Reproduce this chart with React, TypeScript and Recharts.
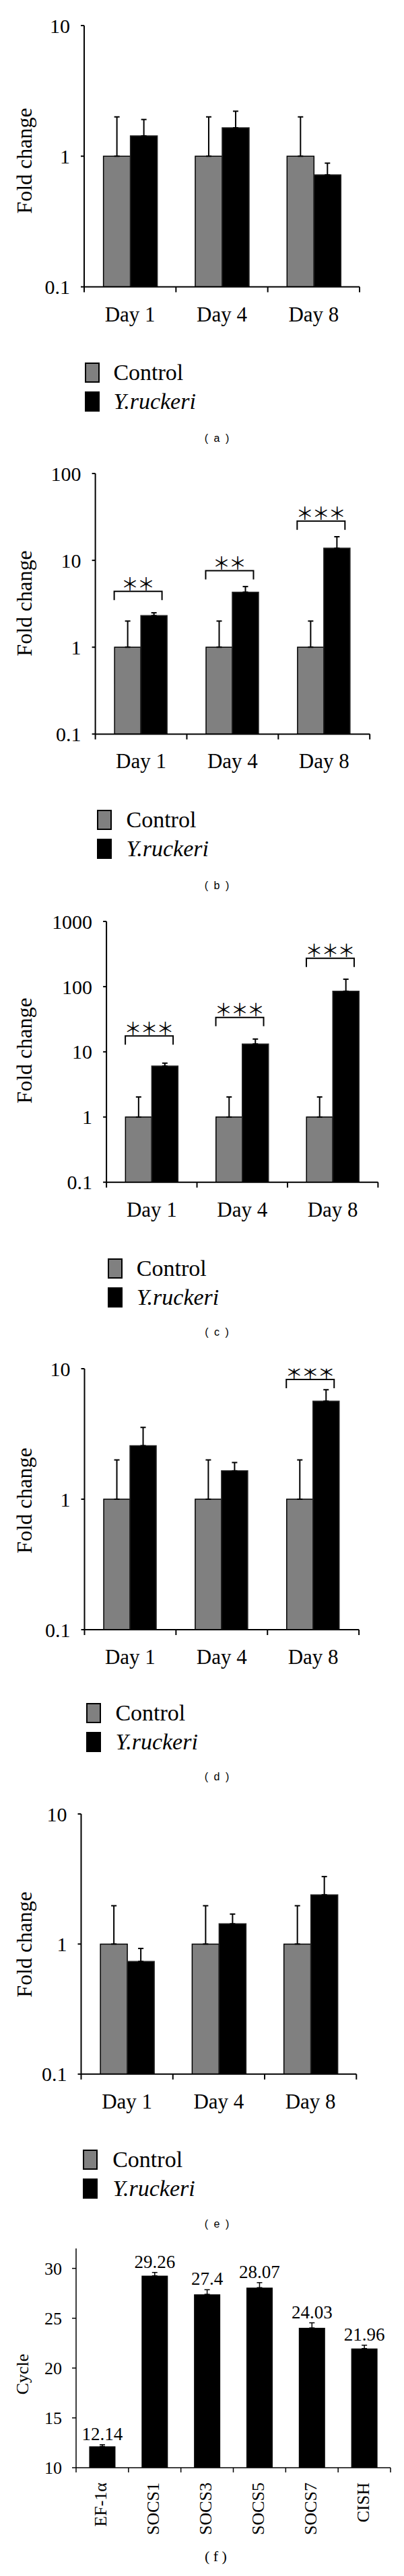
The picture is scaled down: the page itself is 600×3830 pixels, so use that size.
import React from 'react';
import { BarChart, Bar, XAxis, YAxis, ErrorBar, LabelList } from 'recharts';

const SERIF = '"Liberation Serif", "Times New Roman", serif';
const SANS = '"Liberation Sans", Arial, sans-serif';
const GREY = '#808080';

// ---------- shared ----------
const days = ['Day 1', 'Day 4', 'Day 8'];
const seriesNames = ['Control', 'Y.ruckeri'];
const foldTitle = 'Fold change';
const panelNames = ['( a )', '( b )', '( c )', '( d )', '( e )', '( f )'];

// ---------- (a) ----------
const aControl = [1, 1, 1];
const aControlErr = [1, 1, 1];
const aRuckeri = [1.43, 1.65, 0.72];
const aRuckeriErr = [0.48, 0.56, 0.165];
const aTicks = [0.1, 1, 10];

// ---------- (b) ----------
const bControl = [1, 1, 1];
const bControlErr = [1, 1, 1];
const bRuckeri = [2.31, 4.3, 13.8];
const bRuckeriErr = [0.18, 0.69, 4.9];
const bBracket = [4.4, 7.6, 28.3];
const bStars = ['**', '**', '***'];
const bTicks = [0.1, 1, 10, 100];

// ---------- (c) ----------
const cControl = [1, 1, 1];
const cControlErr = [1.03, 1.03, 1.03];
const cRuckeri = [6.06, 13.2, 85];
const cRuckeriErr = [0.64, 2.5, 45];
const cBracket = [17.5, 33.6, 272];
const cStars = ['***', '***', '***'];
const cTicks = [0.1, 1, 10, 100, 1000];

// ---------- (d) ----------
const dControl = [1, 1, 1];
const dControlErr = [1, 1, 1];
const dRuckeri = [2.57, 1.65, 5.64];
const dRuckeriErr = [0.98, 0.26, 1.26];
const dBracket = [null, null, 8.26];
const dStars = ['', '', '***'];
const dTicks = [0.1, 1, 10];

// ---------- (e) ----------
const eControl = [1, 1, 1];
const eControlErr = [0.97, 0.97, 0.97];
const eRuckeri = [0.735, 1.43, 2.39];
const eRuckeriErr = [0.19, 0.27, 0.91];
const eTicks = [0.1, 1, 10];

// ---------- (f) ----------
const genes = ['EF-1α', 'SOCS1', 'SOCS3', 'SOCS5', 'SOCS7', 'CISH'];
const cycles = [12.14, 29.26, 27.4, 28.07, 24.03, 21.96];
const cycleErr = [0.17, 0.33, 0.46, 0.5, 0.51, 0.33];
const cycleTicks = [10, 15, 20, 25, 30];
const cycleMax = 32;
const cycleTitle = 'Cycle';

function buildRows(control: number[], controlErr: number[], ruckeri: number[], ruckeriErr: number[], bracket?: (number | null)[], stars?: string[]) {
  return days.map((d, i) => ({
    day: d,
    control: control[i],
    controlErr: [0, controlErr[i]],
    ruckeri: ruckeri[i],
    ruckeriErr: [0, ruckeriErr[i]],
    sig: bracket ? bracket[i] : null,
    stars: stars ? stars[i] : '',
  }));
}

const DayTick = (props: any) => {
  const { x, y, payload, index } = props;
  const half = payload && typeof payload.offset === 'number' ? payload.offset : 0;
  const last = index === days.length - 1;
  return (
    <g>
      <line x1={x - half} x2={x - half} y1={y - 8} y2={y} stroke="#000" strokeWidth={2} />
      {last && <line x1={x + half} x2={x + half} y1={y - 8} y2={y} stroke="#000" strokeWidth={2} />}
      <text x={x} y={y + 43} textAnchor="middle" fontSize={31} fontFamily={SERIF} fill="#000">
        {payload.value}
      </text>
    </g>
  );
};

const SigShape = (props: any) => {
  const { x, y, width, payload } = props;
  if (!payload || payload.sig == null || !isFinite(y)) return null;
  const drop = 13;
  const shift = -4;
  const x0 = x + shift;
  const starText = String(payload.stars).replace(/\*/g, '\uFF0A');
  return (
    <g>
      <path
        d={`M${x0},${y + drop}L${x0},${y}L${x0 + width},${y}L${x0 + width},${y + drop}`}
        fill="none"
        stroke="#000"
        strokeWidth={2}
      />
      <text
        x={x0 + width / 2 - 1}
        y={y - 1.5}
        textAnchor="middle"
        fontSize={26}
        letterSpacing={-2}
        fontFamily='"Noto Sans CJK JP", "DejaVu Sans", sans-serif'
        fill="#000"
      >
        {starText}
      </text>
    </g>
  );
};

function FoldPanel(props: any) {
  const { rows, ticks, left, right, top, bottom, withSig } = props;
  const mt = 40;
  const mb = 30;
  const xh = 30;
  const yw = 100;
  return (
    <div style={{ position: 'absolute', left: 0, top: top - mt }}>
      <BarChart
        width={600}
        height={bottom - top + mt + mb + xh}
        data={rows}
        margin={{ top: mt, right: 600 - right, bottom: mb, left: left - yw }}
        barCategoryGap="21%"
        barGap={0}
      >
        <XAxis
          xAxisId="main"
          dataKey="day"
          height={xh}
          tickSize={8}
          tickMargin={0}
          tickLine={false}
          axisLine={{ stroke: '#000', strokeWidth: 2 }}
          tick={<DayTick />}
          interval={0}
        />
        {withSig && <XAxis xAxisId="sig" dataKey="day" hide />}
        <YAxis
          type="number"
          scale="log"
          domain={[ticks[0], ticks[ticks.length - 1]]}
          ticks={ticks}
          allowDataOverflow
          interval={0}
          width={yw}
          tickSize={5}
          tickMargin={16}
          axisLine={{ stroke: '#000', strokeWidth: 2 }}
          tickLine={{ stroke: '#000', strokeWidth: 2 }}
          tick={{ fontSize: 30, fill: '#000', fontFamily: SERIF }}
        />
        <Bar xAxisId="main" dataKey="control" name={seriesNames[0]} fill={GREY} stroke="#000" strokeWidth={1.5} isAnimationActive={false}>
          <ErrorBar dataKey="controlErr" width={4} stroke="#000" strokeWidth={2} direction="y" />
        </Bar>
        <Bar xAxisId="main" dataKey="ruckeri" name={seriesNames[1]} fill="#000" stroke="#222" strokeWidth={1.5} isAnimationActive={false}>
          <ErrorBar dataKey="ruckeriErr" width={4} stroke="#000" strokeWidth={2} direction="y" />
        </Bar>
        {withSig && (
          <Bar xAxisId="sig" dataKey="sig" barSize={71} shape={<SigShape />} isAnimationActive={false} />
        )}
      </BarChart>
    </div>
  );
}

const GeneTick = (props: any) => {
  const { x, y, payload, index } = props;
  const half = payload && typeof payload.offset === 'number' ? payload.offset : 0;
  const last = index === genes.length - 1;
  const ty = y + 15;
  return (
    <g>
      <line x1={x - half} x2={x - half} y1={y - 7} y2={y} stroke="#000" strokeWidth={1.5} />
      {last && <line x1={x + half} x2={x + half} y1={y - 7} y2={y} stroke="#000" strokeWidth={1.5} />}
      <text
        x={x}
        y={ty}
        dy="0.25em"
        textAnchor="end"
        transform={`rotate(-90, ${x}, ${ty})`}
        fontSize={26}
        fontFamily={SERIF}
        fill="#000"
      >
        {payload.value}
      </text>
    </g>
  );
};

const ValueLabel = (props: any) => {
  const vb = props.viewBox && typeof props.viewBox.x === 'number' ? props.viewBox : props;
  const { x, y, width, height } = vb;
  const { value, index } = props;
  const v = Number(value);
  const e = typeof index === 'number' ? cycleErr[index] : 0;
  const errPx = height > 0 && v > cycleTicks[0] ? (e * height) / (v - cycleTicks[0]) : 0;
  return (
    <text x={x + width / 2} y={y - errPx - 7} textAnchor="middle" fontSize={27} fontFamily={SERIF} fill="#000">
      {String(value)}
    </text>
  );
};

function CyclePanel() {
  const left = 113;
  const right = 580;
  const top = 3343;
  const bottom = 3669;
  const mt = 40;
  const xh = 110;
  const mb = 10;
  const yw = 100;
  const rows = genes.map((g, i) => ({ gene: g, cycle: cycles[i], err: [0, cycleErr[i]] }));
  return (
    <div style={{ position: 'absolute', left: 0, top: top - mt }}>
      <BarChart
        width={600}
        height={bottom - top + mt + xh + mb}
        data={rows}
        margin={{ top: mt, right: 600 - right, bottom: mb, left: left - yw }}
        barCategoryGap="25%"
      >
        <XAxis
          dataKey="gene"
          height={xh}
          tickSize={7}
          tickMargin={0}
          tickLine={false}
          axisLine={{ stroke: '#000', strokeWidth: 1.5 }}
          tick={<GeneTick />}
          interval={0}
        />
        <YAxis
          type="number"
          domain={[cycleTicks[0], cycleMax]}
          ticks={cycleTicks}
          allowDataOverflow
          interval={0}
          width={yw}
          tickSize={6}
          tickMargin={15}
          axisLine={{ stroke: '#000', strokeWidth: 1.5 }}
          tickLine={{ stroke: '#000', strokeWidth: 1.5 }}
          tick={{ fontSize: 26, fill: '#000', fontFamily: SERIF }}
        />
        <Bar dataKey="cycle" fill="#000" isAnimationActive={false}>
          <ErrorBar dataKey="err" width={4} stroke="#000" strokeWidth={1.5} direction="y" />
          <LabelList dataKey="cycle" content={<ValueLabel />} />
        </Bar>
      </BarChart>
    </div>
  );
}

function LegendBlock(props: any) {
  const { sx, sy, tx } = props;
  const sq = { position: 'absolute' as const, width: 22, height: 30, boxSizing: 'border-box' as const };
  const txt = {
    position: 'absolute' as const,
    left: tx,
    height: 30,
    lineHeight: '30px',
    fontSize: 34,
    fontFamily: SERIF,
    whiteSpace: 'nowrap' as const,
    color: '#000',
  };
  return (
    <>
      <div style={{ ...sq, left: sx, top: sy, background: GREY, border: '2px solid #000' }} />
      <div style={{ ...txt, top: sy }}>{seriesNames[0]}</div>
      <div style={{ ...sq, left: sx, top: sy + 43, background: '#000' }} />
      <div style={{ ...txt, top: sy + 43, fontStyle: 'italic' }}>{seriesNames[1]}</div>
    </>
  );
}

function YTitle(props: any) {
  const { cx, cy, text, size } = props;
  return (
    <div
      style={{
        position: 'absolute',
        left: cx,
        top: cy,
        transform: 'translate(-50%, -50%) rotate(-90deg)',
        fontSize: size,
        fontFamily: SERIF,
        lineHeight: 1,
        whiteSpace: 'nowrap',
        color: '#000',
      }}
    >
      {text}
    </div>
  );
}

function PanelLabel(props: any) {
  const { cx, cy, text, serif } = props;
  return (
    <div
      style={{
        position: 'absolute',
        left: cx,
        top: cy,
        transform: 'translate(-50%, -50%)',
        fontSize: serif ? 22 : 16,
        fontFamily: serif ? SERIF : SANS,
        letterSpacing: serif ? 0 : 2,
        lineHeight: 1,
        whiteSpace: 'pre',
        color: '#000',
      }}
    >
      {text}
    </div>
  );
}

export default function App() {
  const rowsA = buildRows(aControl, aControlErr, aRuckeri, aRuckeriErr);
  const rowsB = buildRows(bControl, bControlErr, bRuckeri, bRuckeriErr, bBracket, bStars);
  const rowsC = buildRows(cControl, cControlErr, cRuckeri, cRuckeriErr, cBracket, cStars);
  const rowsD = buildRows(dControl, dControlErr, dRuckeri, dRuckeriErr, dBracket, dStars);
  const rowsE = buildRows(eControl, eControlErr, eRuckeri, eRuckeriErr);
  return (
    <div
      style={{
        position: 'absolute',
        left: 0,
        top: 0,
        width: 600,
        height: 3830,
        background: '#fff',
        overflow: 'hidden',
      }}
    >
      <FoldPanel rows={rowsA} ticks={aTicks} left={125} right={534} top={37.5} bottom={426} />
      <YTitle cx={36.4} cy={238.8} text={foldTitle} size={32} />
      <LegendBlock sx={126.3} sy={539} tx={168.4} />
      <PanelLabel cx={323} cy={651.6} text={panelNames[0]} />

      <FoldPanel rows={rowsB} ticks={bTicks} left={141.6} right={549.2} top={704} bottom={1091.4} withSig />
      <YTitle cx={36.4} cy={896.7} text={foldTitle} size={32} />
      <LegendBlock sx={143.5} sy={1204} tx={187.5} />
      <PanelLabel cx={323} cy={1317} text={panelNames[1]} />

      <FoldPanel rows={rowsC} ticks={cTicks} left={158.1} right={561.4} top={1369.7} bottom={1757.4} withSig />
      <YTitle cx={36.4} cy={1561.5} text={foldTitle} size={32} />
      <LegendBlock sx={160} sy={1871} tx={202.8} />
      <PanelLabel cx={323} cy={1980.5} text={panelNames[2]} />

      <FoldPanel rows={rowsD} ticks={dTicks} left={125.5} right={533.1} top={2034.7} bottom={2422.7} withSig />
      <YTitle cx={36.4} cy={2230.7} text={foldTitle} size={32} />
      <LegendBlock sx={128.2} sy={2532} tx={171.4} />
      <PanelLabel cx={323} cy={2641.6} text={panelNames[3]} />

      <FoldPanel rows={rowsE} ticks={eTicks} left={120.5} right={529.3} top={2696.7} bottom={3083.5} />
      <YTitle cx={36.4} cy={2891} text={foldTitle} size={32} />
      <LegendBlock sx={122.5} sy={3196} tx={167.2} />
      <PanelLabel cx={323} cy={3307.4} text={panelNames[4]} />

      <CyclePanel />
      <YTitle cx={34} cy={3530} text={cycleTitle} size={26} />
      <PanelLabel cx={320.4} cy={3800.5} text={panelNames[5]} serif />
    </div>
  );
}
